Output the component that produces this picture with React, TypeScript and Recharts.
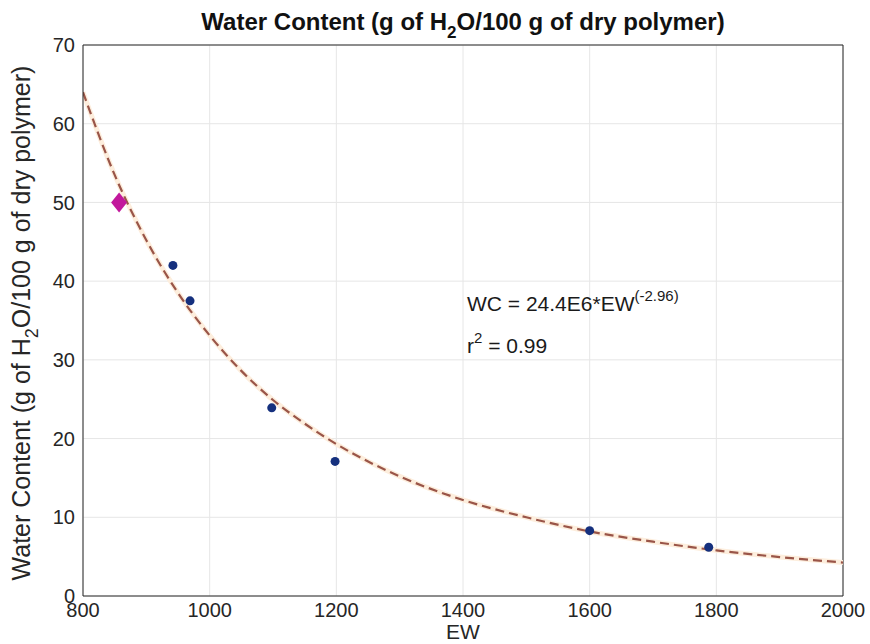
import React from 'react';
import { ComposedChart, Line, Scatter, XAxis, YAxis, CartesianGrid, ReferenceLine, Customized } from 'recharts';

const ewMeasured = [942, 969, 1098, 1198, 1600, 1788];
const wcMeasured = [42.0, 37.5, 23.9, 17.1, 8.3, 6.2];
const ewHighlight = [857];
const wcHighlight = [50.0];
const ewFit = [800, 850, 900, 950, 1000, 1050, 1100, 1150, 1200, 1300, 1400, 1500, 1600, 1700, 1800, 1900, 2000];
const wcFit = [64.0, 53.5, 45.2, 38.5, 33.1, 28.6, 24.9, 21.9, 19.3, 15.2, 12.2, 10.0, 8.2, 6.9, 5.8, 4.95, 4.25];
const xTicks = [800, 1000, 1200, 1400, 1600, 1800, 2000];
const yTicks = [0, 10, 20, 30, 40, 50, 60, 70];

const measured = ewMeasured.map((x, i) => ({ x, y: wcMeasured[i] }));
const highlight = ewHighlight.map((x, i) => ({ x, y: wcHighlight[i] }));
const fit = ewFit.map((x, i) => ({ x, y: wcFit[i] }));

const FONT = 'Liberation Sans, Arial, Helvetica, sans-serif';

const Dot = (p: any) => <circle cx={p.cx} cy={p.cy} r={4.5} fill="#15307e" />;
const Diamond = (p: any) => (
  <polygon
    points={`${p.cx},${p.cy - 10} ${p.cx + 8},${p.cy} ${p.cx},${p.cy + 10} ${p.cx - 8},${p.cy}`}
    fill="#c2189c"
  />
);

const Texts = () => (
  <g fontFamily={FONT} fill="#111">
    <text x={463} y={30} textAnchor="middle" fontSize={24} fontWeight="bold">
      Water Content (g of H<tspan dy={8} fontSize={17}>2</tspan><tspan dy={-8}>O/100 g of dry polymer)</tspan>
    </text>
    <text x={463} y={639} textAnchor="middle" fontSize={21} fill="#262626">EW</text>
    <text transform="translate(30,323) rotate(-90)" textAnchor="middle" fontSize={25} fill="#262626">
      Water Content (g of H<tspan dy={8} fontSize={18}>2</tspan><tspan dy={-8}>O/100 g of dry polymer)</tspan>
    </text>
    <text x={467} y={311} fontSize={21} fill="#1a1a1a">
      WC = 24.4E6*EW<tspan dy={-10} fontSize={15}>(-2.96)</tspan>
    </text>
    <text x={467} y={353} fontSize={21} fill="#1a1a1a">
      r<tspan dy={-10} fontSize={15}>2</tspan><tspan dy={10}> = 0.99</tspan>
    </text>
  </g>
);

export default function App() {
  return (
    <div style={{ position: 'absolute', left: 0, top: 0, background: '#fff' }}>
      <ComposedChart width={870} height={644} margin={{ top: 45, right: 27, bottom: 0, left: 0 }}>
        <CartesianGrid stroke="#e6e6e6" strokeWidth={1} />
        <XAxis
          type="number"
          dataKey="x"
          domain={[800, 2000]}
          ticks={xTicks}
          height={48}
          stroke="#262626"
          tickLine={false}
          tick={{ fill: '#262626', fontSize: 20, fontFamily: FONT }}
          tickMargin={1}
          allowDataOverflow
        />
        <YAxis
          type="number"
          dataKey="y"
          domain={[0, 70]}
          ticks={yTicks}
          width={83}
          stroke="#262626"
          tickLine={false}
          tick={{ fill: '#262626', fontSize: 20, fontFamily: FONT }}
          tickMargin={2}
          allowDataOverflow
        />
        <ReferenceLine y={70} stroke="#262626" strokeWidth={1} />
        <ReferenceLine x={2000} stroke="#262626" strokeWidth={1} />
        <Line data={fit} dataKey="y" type="monotone" stroke="#fdeedd" strokeWidth={5} dot={false} isAnimationActive={false} />
        <Line data={fit} dataKey="y" type="monotone" stroke="#9a5548" strokeWidth={2.2} strokeDasharray="9 5" dot={false} isAnimationActive={false} />
        <Scatter data={measured} dataKey="y" shape={Dot} isAnimationActive={false} />
        <Scatter data={highlight} dataKey="y" shape={Diamond} isAnimationActive={false} />
        <Customized component={Texts} />
      </ComposedChart>
    </div>
  );
}
